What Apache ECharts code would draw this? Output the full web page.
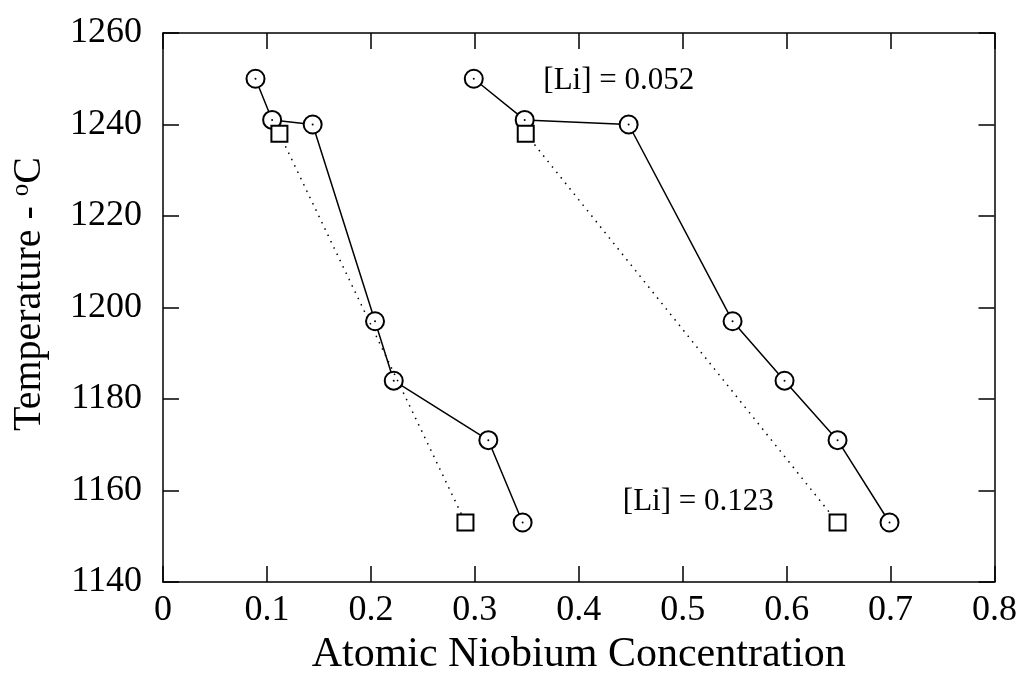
<!DOCTYPE html>
<html>
<head>
<meta charset="utf-8">
<script src="https://cdn.jsdelivr.net/npm/echarts@6/dist/echarts.min.js"></script>
<style>
html,body{margin:0;padding:0;background:#fff;}
#chart{width:1020px;height:685px;}
</style>
</head>
<body>
<div id="chart"></div>
<script>
// Temperatures (°C) for circle series
const tempCircles = [1250, 1241, 1240, 1197, 1184, 1171, 1153];
// Atomic Nb concentration, left circle series
const nbLeftCircles = [0.089, 0.105, 0.144, 0.204, 0.222, 0.313, 0.346];
// Atomic Nb concentration, right circle series
const nbRightCircles = [0.299, 0.348, 0.448, 0.548, 0.598, 0.649, 0.699];
// Temperatures for square series
const tempSquares = [1238, 1153];
const nbLeftSquares = [0.112, 0.291];
const nbRightSquares = [0.349, 0.649];
// Axis ticks
const xTicks = [0, 0.1, 0.2, 0.3, 0.4, 0.5, 0.6, 0.7, 0.8];
const yTicks = [1140, 1160, 1180, 1200, 1220, 1240, 1260];
// Annotations
const annoText = ['[Li] = 0.052', '[Li] = 0.123'];
const annoX = [0.4385, 0.515];
const annoY = [1249.5, 1157.5];

const FONT = 'Liberation Serif';
const pair = (xs, ys) => xs.map((x, i) => [x, ys[i]]);

const chart = echarts.init(document.getElementById('chart'));

const axisCommon = {
  axisLine: { show: true, onZero: false, lineStyle: { color: '#000', width: 1.5 } },
  axisTick: { show: true, inside: true, length: 16, lineStyle: { color: '#000', width: 1.5 } },
  splitLine: { show: false }
};

const circleSeries = (xs) => ({
  type: 'line',
  data: pair(xs, tempCircles),
  symbol: 'emptyCircle',
  symbolSize: 18,
  showAllSymbol: true,
  lineStyle: { color: '#000', width: 1.5 },
  itemStyle: { color: '#000', borderColor: '#000', borderWidth: 1.5 },
  z: 3,
  animation: false
});
const dotSeries = (xs) => ({
  type: 'scatter',
  data: pair(xs, tempCircles),
  symbol: 'circle',
  symbolSize: 2,
  itemStyle: { color: '#000', opacity: 1 },
  z: 5,
  animation: false
});
const squareSeries = (xs) => ({
  type: 'line',
  data: pair(xs, tempSquares),
  symbol: 'emptyRect',
  symbolSize: 16,
  showAllSymbol: true,
  lineStyle: { color: '#000', width: 1.5, type: [1.5, 5.5] },
  itemStyle: { color: '#000', borderColor: '#000', borderWidth: 1.2 },
  z: 4,
  animation: false
});

const option = {
  backgroundColor: '#fff',
  animation: false,
  grid: { left: 163, right: 23, top: 33, bottom: 103, containLabel: false },
  xAxis: [
    Object.assign({
      type: 'value', position: 'bottom', min: 0, max: 0.8, interval: 0.1,
      name: 'Atomic Niobium Concentration', nameLocation: 'middle', nameGap: 50,
      nameTextStyle: { fontFamily: FONT, fontSize: 42, color: '#000' },
      axisLabel: { fontFamily: FONT, fontSize: 36, color: '#000', margin: 11,
        formatter: v => { const t = xTicks.find(k => Math.abs(k - v) < 1e-9); return t === undefined ? '' : String(t); } }
    }, axisCommon),
    Object.assign({
      type: 'value', position: 'top', min: 0, max: 0.8, interval: 0.1,
      axisLabel: { show: false }
    }, axisCommon)
  ],
  yAxis: [
    Object.assign({
      type: 'value', position: 'left', min: 1140, max: 1260, interval: 20,
      name: 'Temperature - {sup|o}C', nameLocation: 'middle', nameGap: 113, nameRotate: 90,
      nameTextStyle: { fontFamily: FONT, fontSize: 40, color: '#000', padding: [0, 0, 0, 27],
        rich: { sup: { fontFamily: FONT, fontSize: 25, color: '#000', verticalAlign: 'top', padding: [0, 0, 16, 0] } } },
      axisLabel: { fontFamily: FONT, fontSize: 36, color: '#000', margin: 21,
        formatter: v => { const t = yTicks.find(k => k === v); return t === undefined ? '' : String(t); } }
    }, axisCommon),
    Object.assign({
      type: 'value', position: 'right', min: 1140, max: 1260, interval: 20,
      axisLabel: { show: false }
    }, axisCommon)
  ],
  series: [
    squareSeries(nbLeftSquares),
    squareSeries(nbRightSquares),
    circleSeries(nbLeftCircles),
    circleSeries(nbRightCircles),
    dotSeries(nbLeftCircles),
    dotSeries(nbRightCircles),
    {
      type: 'scatter',
      data: annoText.map((t, i) => ({ value: [annoX[i], annoY[i]], name: t })),
      symbolSize: 0,
      itemStyle: { opacity: 1 },
      label: { show: true, position: 'inside', formatter: p => p.name,
        fontFamily: FONT, fontSize: 31, color: '#000', opacity: 1 },
      silent: true,
      z: 6
    }
  ]
};
chart.setOption(option);
</script>
</body>
</html>
